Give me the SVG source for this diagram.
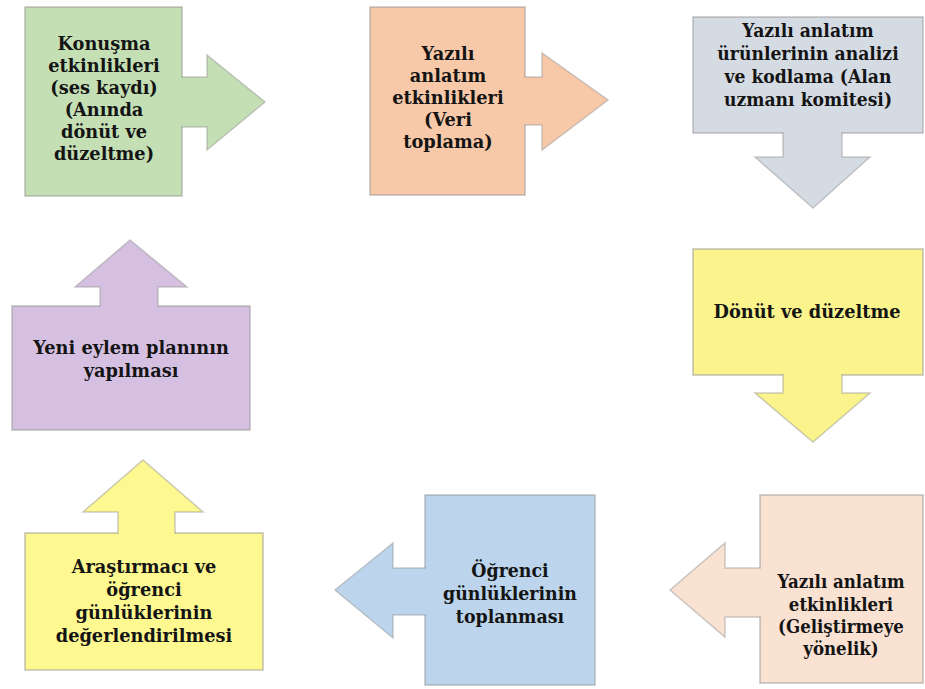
<svg xmlns="http://www.w3.org/2000/svg" width="925" height="689" viewBox="0 0 925 689">
<style>
.box{stroke:#8f8f8f;stroke-opacity:0.55;stroke-width:1.5}
.arr{stroke:#8f8f8f;stroke-opacity:0.45;stroke-width:1.5;stroke-linejoin:miter}
.t{font-family:'DejaVu Serif',serif;font-weight:bold;font-size:18.5px;fill:#141414;text-anchor:middle}
</style>
<rect width="925" height="689" fill="#ffffff"/>
<g id="n1">
<rect class="box" x="25" y="7" width="157" height="189" fill="#c5dfb5"/>
<g class="t" transform="translate(104,0) scale(0.96,1)">
<text x="0" y="50">Konuşma</text>
<text x="0" y="72">etkinlikleri</text>
<text x="0" y="94">(ses kaydı)</text>
<text x="0" y="116">(Anında</text>
<text x="0" y="138">dönüt ve</text>
<text x="0" y="160">düzeltme)</text>
</g>
</g>
<g id="n2">
<rect class="box" x="370" y="7" width="155" height="188" fill="#f8c9a8"/>
<g class="t" transform="translate(448,0) scale(0.96,1)">
<text x="0" y="60">Yazılı</text>
<text x="0" y="82">anlatım</text>
<text x="0" y="104">etkinlikleri</text>
<text x="0" y="126">(Veri</text>
<text x="0" y="148">toplama)</text>
</g>
</g>
<g id="n3">
<rect class="box" x="693" y="17" width="230" height="116" fill="#d5dbe3"/>
<g class="t" transform="translate(808,0) scale(0.93,1)">
<text x="0" y="37">Yazılı anlatım</text>
<text x="0" y="60">ürünlerinin analizi</text>
<text x="0" y="83">ve kodlama (Alan</text>
<text x="0" y="106">uzmanı komitesi)</text>
</g>
</g>
<g id="n4">
<rect class="box" x="693" y="249" width="230" height="126" fill="#fbf48c"/>
<g class="t" transform="translate(807,0) scale(0.96,1)">
<text x="0" y="318">Dönüt ve düzeltme</text>
</g>
</g>
<g id="n5">
<rect class="box" x="760" y="495" width="163" height="188" fill="#f9e2d2"/>
<g class="t" transform="translate(841,0) scale(0.9,1)">
<text x="0" y="588">Yazılı anlatım</text>
<text x="0" y="611">etkinlikleri</text>
<text x="0" y="633">(Geliştirmeye</text>
<text x="0" y="655">yönelik)</text>
</g>
</g>
<g id="n6">
<rect class="box" x="425" y="495" width="170" height="190" fill="#bcd5ec"/>
<g class="t" transform="translate(510,0) scale(0.94,1)">
<text x="0" y="577">Öğrenci</text>
<text x="0" y="600">günlüklerinin</text>
<text x="0" y="623">toplanması</text>
</g>
</g>
<g id="n7">
<rect class="box" x="25" y="533" width="238" height="137" fill="#fdf88f"/>
<g class="t" transform="translate(144,0) scale(0.96,1)">
<text x="0" y="573">Araştırmacı ve</text>
<text x="0" y="596">öğrenci</text>
<text x="0" y="619">günlüklerinin</text>
<text x="0" y="642">değerlendirilmesi</text>
</g>
</g>
<g id="n8">
<rect class="box" x="12" y="306" width="238" height="124" fill="#d6c0e2"/>
<g class="t" transform="translate(131,0) scale(0.96,1)">
<text x="0" y="354">Yeni eylem planının</text>
<text x="0" y="377">yapılması</text>
</g>
</g>
<g id="connectors">
<path class="arr" fill="#c5dfb5" d="M181,77 L207,77 L207,55 L265,102 L207,150 L207,127 L181,127"/>
<path class="arr" fill="#f8c9a8" d="M524,77 L542,77 L542,53 L608,100 L542,150 L542,125 L524,125"/>
<path class="arr" fill="#d5dbe3" d="M783,132 L783,157 L755,157 L813,208 L870,157 L842,157 L842,132"/>
<path class="arr" fill="#fbf48c" d="M783,374 L783,393 L755,393 L813,442 L870,393 L842,393 L842,374"/>
<path class="arr" fill="#f9e2d2" d="M761,568 L725,568 L725,543 L670,590 L725,637 L725,617 L761,617"/>
<path class="arr" fill="#bcd5ec" d="M426,568 L393,568 L393,543 L335,590 L393,638 L393,615 L426,615"/>
<path class="arr" fill="#fdf88f" d="M118,534 L118,512 L83,512 L143,460 L203,512 L175,512 L175,534"/>
<path class="arr" fill="#d6c0e2" d="M100,307 L100,287 L75,287 L130,240 L187,287 L158,287 L158,307"/>
</g>
</svg>
